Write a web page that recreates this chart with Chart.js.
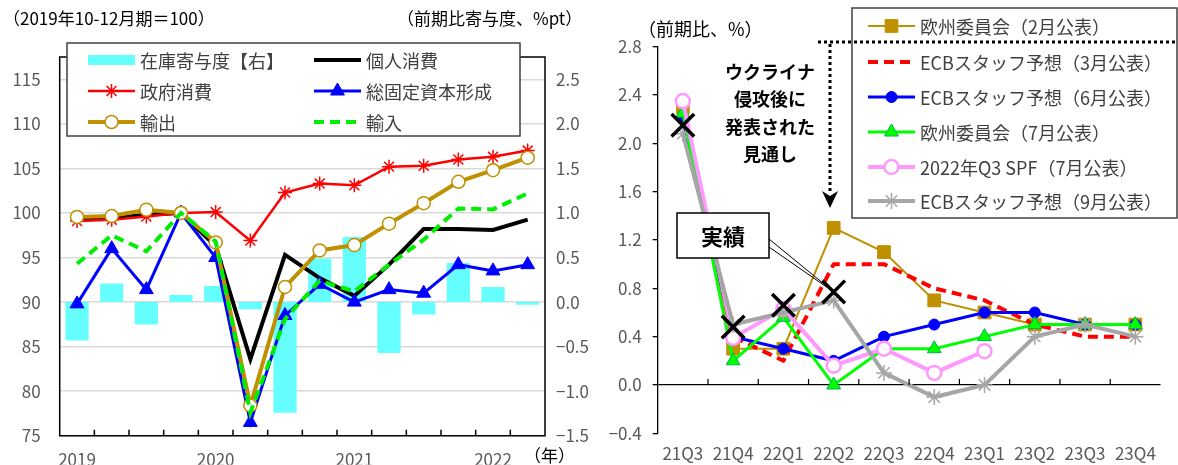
<!DOCTYPE html>
<html lang="ja">
<head>
<meta charset="utf-8">
<script src="https://cdn.jsdelivr.net/npm/chart.js@4.4.1/dist/chart.umd.min.js"></script>
<style>
  html, body { margin: 0; padding: 0; background: #fff; overflow: hidden; }
  #wrap { position: relative; width: 1178px; height: 465px; overflow: hidden; font-family: "Noto Sans CJK JP", sans-serif; }
  canvas { position: absolute; top: 0; }
  #leftChart { left: 0; }
  #rightChart { left: 600px; }
  .note { position: absolute; font-size: 17px; color: #000; white-space: nowrap; line-height: 1; }
</style>
</head>
<body>
<div id="wrap">
  <canvas id="leftChart" width="600" height="465"></canvas>
  <canvas id="rightChart" width="580" height="465"></canvas>
  <div class="note" style="left:3px;top:9px;">（2019年10-12月期＝100）</div>
  <div class="note" style="left:397px;top:9px;">（前期比寄与度、%pt）</div>
  <div class="note" style="left:638px;top:19px;font-size:18px;">（前期比、%）</div>
</div>
<script>
// ---- left chart: components of GDP (index, 2019Q4 = 100) ----
const quarterLabels = ['2019', '', '', '', '2020', '', '', '', '2021', '', '', '', '2022', ''];
const inventory   = [-0.43, 0.21, -0.25, 0.08, 0.18, -0.08, -1.24, 0.49, 0.73, -0.57, -0.14, 0.44, 0.17, -0.03];
const privateCons = [99.25, 99.4, 99.8, 100, 96.3, 83.6, 95.3, 92.7, 90.7, 94.2, 98.2, 98.2, 98.1, 99.25];
const govCons     = [99.1, 99.25, 99.6, 100, 100.1, 96.9, 102.3, 103.3, 103.1, 105.2, 105.3, 106.0, 106.3, 107.0];
const investment  = [89.8, 96.0, 91.4, 100, 95.0, 76.5, 88.5, 92.0, 90.0, 91.4, 91.0, 94.2, 93.5, 94.2];
const exportsIdx  = [99.55, 99.66, 100.37, 100, 96.7, 78.4, 91.7, 95.8, 96.4, 98.8, 101.1, 103.5, 104.8, 106.2];
const importsIdx  = [94.3, 97.5, 95.7, 100, 96.8, 77.6, 88.1, 92.4, 91.2, 94.2, 97.0, 100.5, 100.4, 102.2];

// ---- right chart: GDP forecasts (q/q %) ----
const forecastQuarters = ['21Q3', '21Q4', '22Q1', '22Q2', '22Q3', '22Q4', '23Q1', '23Q2', '23Q3', '23Q4'];
const ecFeb  = [2.3, 0.3, 0.3, 1.3, 1.1, 0.7, 0.6, 0.5, 0.5, 0.5];
const ecbMar = [2.2, 0.4, 0.2, 1.0, 1.0, 0.8, 0.7, 0.5, 0.4, 0.4];
const ecbJun = [2.2, 0.4, 0.3, 0.2, 0.4, 0.5, 0.6, 0.6, 0.5, 0.5];
const ecJul  = [2.25, 0.2, 0.56, 0.0, 0.3, 0.3, 0.4, 0.5, 0.5, 0.5];
const spfJul = [2.35, 0.39, 0.63, 0.16, 0.3, 0.1, 0.28, null, null, null];
const ecbSep = [2.08, 0.5, 0.6, 0.7, 0.1, -0.1, 0.0, 0.4, 0.5, 0.4];
const actual = [2.15, 0.48, 0.66, 0.77, null, null, null, null, null, null];

Chart.defaults.font.family = '"Noto Sans CJK JP", sans-serif';
const axisGray = '#595959';
const legendGray = '#404040';

// number format with a real minus sign
function fmt(v) {
    if (Math.abs(v) < 1e-9) return '0.0';
    return v.toFixed(1).replace('-', '−');
}

// legend sample: line (with marker) or bar block
function drawSample(ctx, ds, x0, x1, y) {
    ctx.save();
    if (ds.type === 'bar') {
        ctx.fillStyle = ds.backgroundColor;
        ctx.fillRect(x0, y - 5, x1 - x0, 10);
    } else {
        ctx.strokeStyle = ds.borderColor;
        ctx.lineWidth = ds.borderWidth;
        ctx.setLineDash(ds.borderDash || []);
        ctx.beginPath();
        ctx.moveTo(x0, y);
        ctx.lineTo(x1, y);
        ctx.stroke();
        ctx.setLineDash([]);
        if (ds.pointRadius > 0) {
            ctx.fillStyle = ds.pointBackgroundColor;
            ctx.strokeStyle = ds.pointBorderColor;
            ctx.lineWidth = ds.pointBorderWidth;
            Chart.helpers.drawPoint(ctx, {
                pointStyle: ds.pointStyle, radius: ds.pointRadius,
                borderWidth: ds.pointBorderWidth, rotation: 0
            }, (x0 + x1) / 2, y);
        }
    }
    ctx.restore();
}

// box, inner ticks, legend, (年) for the left chart
const leftDecor = {
    id: 'leftDecor',
    afterDatasetsDraw(chart) {
        const { ctx, chartArea: a } = chart;
        const n = chart.data.labels.length;
        const step = (a.right - a.left) / n;
        ctx.save();
        ctx.strokeStyle = '#000';
        ctx.lineWidth = 1.5;
        ctx.strokeRect(a.left, a.top, a.right - a.left, a.bottom - a.top);
        ctx.beginPath();
        for (let i = 1; i < n; i++) {
            const px = a.left + i * step;
            ctx.moveTo(px, a.bottom);
            ctx.lineTo(px, a.bottom - 6);
        }
        ctx.stroke();
        ctx.restore();
    },
    afterDraw(chart) {
        const ctx = chart.ctx;
        const dsets = chart.data.datasets;
        ctx.save();
        // legend box
        ctx.fillStyle = '#fff';
        ctx.fillRect(67, 43, 453, 93);
        ctx.strokeStyle = legendGray;
        ctx.lineWidth = 1.5;
        ctx.strokeRect(67, 43, 453, 93);
        ctx.font = '18px "Noto Sans CJK JP"';
        ctx.textBaseline = 'middle';
        const rows = [60, 91, 122];
        const cols = [88, 314];
        dsets.forEach((ds, i) => {
            const cx = cols[i % 2], cy = rows[Math.floor(i / 2)];
            drawSample(ctx, ds, cx, cx + 47, cy);
            ctx.fillStyle = legendGray;
            ctx.fillText(ds.label, cx + 52, cy + 1);
        });
        ctx.fillStyle = '#000';
        ctx.font = '17px "Noto Sans CJK JP"';
        ctx.fillText('（年）', 524, 456);
        ctx.restore();
    }
};

new Chart(document.getElementById('leftChart'), {
    data: {
        labels: quarterLabels,
        datasets: [
            { type: 'bar', label: '在庫寄与度【右】', data: inventory, yAxisID: 'y2',
              backgroundColor: '#66FFFF', barPercentage: 0.67, categoryPercentage: 1, order: 10 },
            { type: 'line', label: '個人消費', data: privateCons, borderColor: '#000', borderWidth: 4,
              pointRadius: 0, order: 5 },
            { type: 'line', label: '政府消費', data: govCons, borderColor: '#FF0000', borderWidth: 2.5,
              pointStyle: 'star', pointRadius: 7, pointBorderWidth: 1.5,
              pointBorderColor: '#FF0000', pointBackgroundColor: '#FF0000', order: 4 },
            { type: 'line', label: '総固定資本形成', data: investment, borderColor: '#0000FF', borderWidth: 3,
              pointStyle: 'triangle', pointRadius: 8, pointBorderWidth: 1,
              pointBorderColor: '#0000FF', pointBackgroundColor: '#0000FF', order: 3 },
            { type: 'line', label: '輸出', data: exportsIdx, borderColor: '#BF9000', borderWidth: 4,
              pointStyle: 'circle', pointRadius: 6.5, pointBorderWidth: 1.5,
              pointBorderColor: '#BF9000', pointBackgroundColor: '#FFFFFF', order: 2 },
            { type: 'line', label: '輸入', data: importsIdx, borderColor: '#00EE00', borderWidth: 4,
              borderDash: [10, 6], pointRadius: 0, order: 1 }
        ]
    },
    options: {
        responsive: false,
        animation: false,
        layout: { padding: { top: 57, left: 0, right: 0, bottom: 0 } },
        plugins: { legend: { display: false }, tooltip: { enabled: false } },
        scales: {
            x: {
                offset: true,
                grid: { display: false },
                border: { display: false },
                ticks: { autoSkip: false, maxRotation: 0, padding: 6, color: axisGray, font: { size: 17 } },
                afterFit: s => { s.height = 29; }
            },
            y: {
                position: 'left', min: 75, max: 117.5,
                ticks: { stepSize: 5, padding: 19, color: axisGray, font: { size: 17 },
                         callback: v => (v <= 115 ? v : '') },
                grid: { drawTicks: false, lineWidth: 1.5,
                        color: c => (c.tick && c.tick.value > 75 && c.tick.value <= 115 ? '#D9D9D9' : 'rgba(0,0,0,0)') },
                border: { display: false },
                afterFit: s => { s.width = 59.7; }
            },
            y2: {
                position: 'right', min: -1.5, max: 2.75,
                ticks: { stepSize: 0.5, padding: 11, color: axisGray, font: { size: 17 },
                         callback: v => (v <= 2.5 ? fmt(v) : '') },
                grid: { display: false, drawTicks: false },
                border: { display: false },
                afterFit: s => { s.width = 55; }
            }
        }
    },
    plugins: [leftDecor]
});

// zero-line ticks, callout, arrow, legend for the right chart
const rightDecor = {
    id: 'rightDecor',
    afterDatasetsDraw(chart) {
        const { ctx, chartArea: a, scales: { y } } = chart;
        const n = chart.data.labels.length;
        const step = (a.right - a.left) / n;
        const y0 = y.getPixelForValue(0);
        ctx.save();
        ctx.strokeStyle = '#000';
        ctx.lineWidth = 1.2;
        ctx.beginPath();
        for (let i = 1; i < n; i++) {
            const px = a.left + i * step;
            ctx.moveTo(px, y0);
            ctx.lineTo(px, y0 - 6);
        }
        ctx.stroke();
        ctx.restore();
    },
    afterDraw(chart) {
        const { ctx, scales: { x, y } } = chart;
        const dsets = chart.data.datasets;
        ctx.save();

        // "実績" callout pointing at the last actual value
        const tx = x.getPixelForValue(3), ty = y.getPixelForValue(actual[3]);
        ctx.strokeStyle = '#000';
        ctx.lineWidth = 1;
        ctx.beginPath();
        ctx.moveTo(169, 239); ctx.lineTo(tx, ty);
        ctx.moveTo(169, 247); ctx.lineTo(tx, ty);
        ctx.stroke();
        ctx.fillStyle = '#fff';
        ctx.fillRect(77, 213, 92, 45);
        ctx.lineWidth = 1.5;
        ctx.strokeRect(77, 213, 92, 45);
        ctx.fillStyle = '#000';
        ctx.font = 'bold 22px "Noto Sans CJK JP"';
        ctx.textAlign = 'center';
        ctx.textBaseline = 'middle';
        ctx.fillText('実績', 123, 237);

        // note text
        ctx.font = 'bold 18px "Noto Sans CJK JP"';
        ['ウクライナ', '侵攻後に', '発表された', '見通し'].forEach((t, i) => {
            ctx.fillText(t, 170, 72 + i * 27.5);
        });

        // legend box
        ctx.fillStyle = '#fff';
        ctx.fillRect(252, 8, 325, 210);
        ctx.strokeStyle = legendGray;
        ctx.lineWidth = 1.5;
        ctx.strokeRect(252, 8, 325, 210);
        ctx.textAlign = 'left';
        ctx.font = '18px "Noto Sans CJK JP"';
        const rows = [26, 62, 97, 132, 167, 201];
        dsets.filter(ds => ds.label).forEach((ds, i) => {
            drawSample(ctx, ds, 268, 315, rows[i]);
            ctx.fillStyle = legendGray;
            ctx.fillText(ds.label, 320, rows[i] + 1);
        });

        // dotted bracket with arrow
        ctx.strokeStyle = '#000';
        ctx.lineWidth = 3;
        ctx.setLineDash([3, 3]);
        ctx.beginPath();
        ctx.moveTo(218, 42); ctx.lineTo(580, 42);
        ctx.moveTo(230, 44); ctx.lineTo(230, 194);
        ctx.stroke();
        ctx.setLineDash([]);
        ctx.fillStyle = '#000';
        ctx.beginPath();
        ctx.moveTo(222, 191); ctx.lineTo(230, 196); ctx.lineTo(238, 191); ctx.lineTo(230, 208);
        ctx.closePath();
        ctx.fill();
        ctx.restore();
    }
};

new Chart(document.getElementById('rightChart'), {
    type: 'line',
    data: {
        labels: forecastQuarters,
        datasets: [
            { label: '欧州委員会（2月公表）', data: ecFeb, borderColor: '#BF9000', borderWidth: 2,
              pointStyle: 'rect', pointRadius: 9, pointBorderWidth: 1,
              pointBorderColor: '#BF9000', pointBackgroundColor: '#BF9000', order: 6 },
            { label: 'ECBスタッフ予想（3月公表）', data: ecbMar, borderColor: '#FF0000', borderWidth: 4,
              borderDash: [10, 6], borderJoinStyle: 'round', pointRadius: 0, order: 5 },
            { label: 'ECBスタッフ予想（6月公表）', data: ecbJun, borderColor: '#0000FF', borderWidth: 3,
              pointStyle: 'circle', pointRadius: 5.5, pointBorderWidth: 1,
              pointBorderColor: '#0000FF', pointBackgroundColor: '#0000FF', order: 4 },
            { label: '欧州委員会（7月公表）', data: ecJul, borderColor: '#00FF00', borderWidth: 3,
              pointStyle: 'triangle', pointRadius: 8, pointBorderWidth: 1,
              pointBorderColor: '#00B050', pointBackgroundColor: '#00FF00', order: 3 },
            { label: '2022年Q3 SPF（7月公表）', data: spfJul, borderColor: '#FF99FF', borderWidth: 4,
              pointStyle: 'circle', pointRadius: 7, pointBorderWidth: 2.5,
              pointBorderColor: '#FF99FF', pointBackgroundColor: '#FFFFFF', order: 2 },
            { label: 'ECBスタッフ予想（9月公表）', data: ecbSep, borderColor: '#A6A6A6', borderWidth: 4,
              pointStyle: 'star', pointRadius: 8, pointBorderWidth: 1.5,
              pointBorderColor: '#A6A6A6', pointBackgroundColor: '#A6A6A6', order: 1 },
            { label: '', data: actual, showLine: false,
              pointStyle: 'crossRot', pointRadius: 16, pointBorderWidth: 3.5,
              pointBorderColor: '#000', pointBackgroundColor: '#000', order: 0 }
        ]
    },
    options: {
        responsive: false,
        animation: false,
        layout: { padding: { top: 46.7, left: 0, right: 0, bottom: 0 } },
        plugins: { legend: { display: false }, tooltip: { enabled: false } },
        scales: {
            x: {
                offset: true,
                grid: { display: false },
                border: { display: false },
                ticks: { autoSkip: false, maxRotation: 0, padding: 2, color: axisGray, font: { size: 17 } },
                afterFit: s => { s.height = 31.7; }
            },
            y: {
                min: -0.4, max: 2.8,
                ticks: { stepSize: 0.4, padding: 11, color: axisGray, font: { size: 17 }, callback: v => fmt(v) },
                grid: { tickLength: 5, tickColor: '#000', lineWidth: 1.3,
                        color: c => (c.tick && Math.abs(c.tick.value) < 1e-9 ? '#000' : 'rgba(0,0,0,0)') },
                border: { display: true, color: '#000', width: 1.3 },
                afterFit: s => { s.width = 57.7; }
            }
        }
    },
    plugins: [rightDecor]
});
</script>
</body>
</html>
